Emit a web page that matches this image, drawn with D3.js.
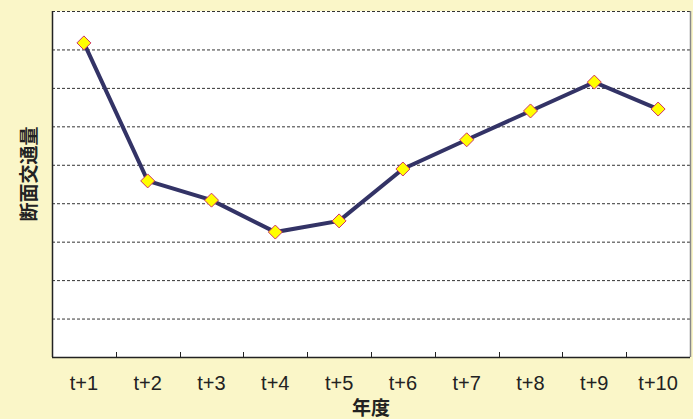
<!DOCTYPE html>
<html>
<head>
<meta charset="utf-8">
<script src="https://cdn.jsdelivr.net/npm/d3@7"></script>
<style>
  body { margin: 0; background: #faf6c8; }
  svg { display: block; }
</style>
</head>
<body>
<div id="chart"></div>
<script>
var years = ["t+1", "t+2", "t+3", "t+4", "t+5", "t+6", "t+7", "t+8", "t+9", "t+10"];
var traffic = [8.17, 4.58, 4.08, 3.25, 3.54, 4.89, 5.65, 6.4, 7.15, 6.45];
var gridValues = [1, 2, 3, 4, 5, 6, 7, 8, 9];

var margin = {top: 11, right: 3, bottom: 62, left: 52},
    width = 693 - margin.left - margin.right,
    height = 419 - margin.top - margin.bottom;

var svg = d3.select("#chart")
  .append("svg")
    .attr("width", 693)
    .attr("height", 419)
  .append("g")
    .attr("transform", "translate(" + margin.left + "," + margin.top + ")");

var x = d3.scaleBand()
  .domain(years)
  .range([0, width]);

var y = d3.scaleLinear()
  .domain([0, 9])
  .range([height, 0]);

// plot area
svg.append("rect")
  .attr("width", width)
  .attr("height", height)
  .attr("fill", "#ffffff");

// dashed gridlines
svg.selectAll(".grid")
  .data(gridValues)
  .enter()
  .append("line")
    .attr("x1", 0)
    .attr("x2", width)
    .attr("y1", function(d) { return y(d) + 0.5; })
    .attr("y2", function(d) { return y(d) + 0.5; })
    .attr("stroke", "#333")
    .attr("stroke-width", 1)
    .attr("stroke-dasharray", "3,2");

// right border
svg.append("line")
  .attr("x1", width + 0.5).attr("x2", width + 0.5)
  .attr("y1", 0).attr("y2", height)
  .attr("stroke", "#888").attr("stroke-width", 1.5);

// left border
svg.append("line")
  .attr("x1", 0.5).attr("x2", 0.5)
  .attr("y1", 0).attr("y2", height)
  .attr("stroke", "#222").attr("stroke-width", 1.5);

// x axis with inward ticks at band edges
var xAxis = svg.append("g")
  .attr("transform", "translate(0," + height + ")");
xAxis.append("line")
  .attr("x1", 0).attr("x2", width)
  .attr("y1", 0.5).attr("y2", 0.5)
  .attr("stroke", "#222").attr("stroke-width", 1.5);
xAxis.selectAll(".tick")
  .data(years.slice(1))
  .enter()
  .append("line")
    .attr("x1", function(d) { return Math.round(x(d)) + 0.5; })
    .attr("x2", function(d) { return Math.round(x(d)) + 0.5; })
    .attr("y1", 0)
    .attr("y2", -5)
    .attr("stroke", "#222");
xAxis.selectAll(".lab")
  .data(years)
  .enter()
  .append("text")
    .attr("x", function(d) { return x(d) + x.bandwidth() / 2; })
    .attr("y", 33)
    .attr("text-anchor", "middle")
    .style("font-family", "'Liberation Sans Narrow', 'Arial Narrow', 'Liberation Sans', sans-serif")
    .style("font-size", "20px")
    .style("fill", "#222")
    .text(function(d) { return d; });

// axis titles
svg.append("text")
  .attr("x", width / 2)
  .attr("y", height + 58)
  .attr("text-anchor", "middle")
  .style("font-family", "'Noto Sans CJK JP', sans-serif")
  .style("font-weight", "bold")
  .style("font-size", "19px")
  .style("fill", "#222")
  .text("年度");

svg.append("text")
  .attr("transform", "translate(" + (-23) + "," + (height / 2 - 10) + ")rotate(-90)")
  .attr("text-anchor", "middle")
  .attr("dy", "0.35em")
  .style("font-family", "'Noto Sans CJK JP', sans-serif")
  .style("font-weight", "bold")
  .style("font-size", "19px")
  .style("fill", "#222")
  .text("断面交通量");

// line
var line = d3.line()
  .x(function(d, i) { return x(years[i]) + x.bandwidth() / 2; })
  .y(function(d) { return y(d); });

svg.append("path")
  .datum(traffic)
  .attr("fill", "none")
  .attr("stroke", "#333366")
  .attr("stroke-width", 4)
  .attr("d", line);

// diamond markers
svg.selectAll(".pt")
  .data(traffic)
  .enter()
  .append("path")
    .attr("d", "M0,-7L7,0L0,7L-7,0Z")
    .attr("transform", function(d, i) {
      return "translate(" + (x(years[i]) + x.bandwidth() / 2) + "," + y(d) + ")";
    })
    .attr("fill", "#ffff00")
    .attr("stroke", "#cc3366")
    .attr("stroke-width", 1);
</script>
</body>
</html>
